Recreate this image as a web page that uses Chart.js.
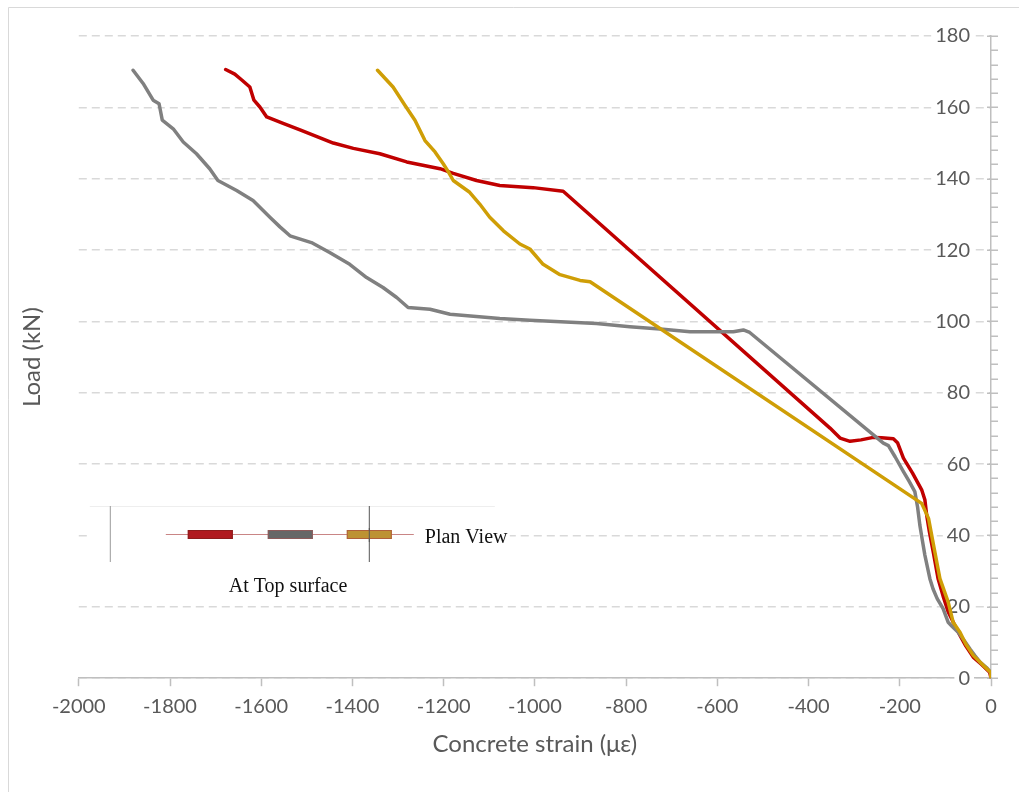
<!DOCTYPE html>
<html>
<head>
<meta charset="utf-8">
<title>Load vs concrete strain</title>
<script src="https://cdn.jsdelivr.net/npm/chart.js@4/dist/chart.umd.min.js"></script>
<style>
  html, body { margin: 0; padding: 0; background: #ffffff; }
  #wrap { position: relative; width: 1019px; height: 792px; }
  canvas { display: block; }
</style>
</head>
<body>
<div id="wrap"><canvas id="chart" width="1019" height="792"></canvas></div>
<script>
// Gauge on the left (red) of the top surface
const redStrain = [0, -3, -20, -39, -55, -68, -80, -94, -105, -116, -126, -135, -141, -145, -152, -172, -192, -205, -214, -240, -258, -285, -309, -331, -353,
  -938, -1004, -1077, -1128, -1179, -1208, -1281, -1340, -1398, -1442, -1515, -1552, -1588, -1603, -1616, -1625, -1642, -1658, -1678];
const redLoad = [0, 1.7, 3.8, 5.9, 9, 12, 15, 18.6, 23, 27.9, 35, 41, 45.7, 50, 52.8, 57.5, 61.7, 66, 67.1, 67.4, 67.5, 66.8, 66.4, 67.3, 70.1,
  136.5, 137.5, 138.1, 139.5, 141.5, 142.8, 144.7, 147, 148.5, 150, 153.7, 155.5, 157.3, 160.1, 162, 165.7, 167.6, 169.3, 170.6];

// Middle gauge (grey)
const greyStrain = [0, -1, -10, -24, -35, -46, -60, -72, -85, -94, -105, -118, -127, -134, -145, -151, -156, -161, -167, -180, -192, -210, -225, -236,
  -529, -543, -565, -660, -719, -792, -865, -1011, -1077, -1186, -1230, -1278, -1303, -1333, -1369, -1406, -1450, -1490, -1537, -1559, -1581, -1618,
  -1654, -1695, -1713, -1742, -1771, -1793, -1817, -1824, -1837, -1859, -1881];
const greyLoad = [0, 1.7, 3, 4.5, 6.3, 8.2, 10.8, 12.9, 14.5, 15.7, 19.5, 22.3, 25, 27.9, 34.5, 39, 42.9, 48, 52.3, 55.3, 57.9, 62, 65.2, 65.9,
  96.9, 97.6, 97.1, 97.1, 97.8, 98.5, 99.4, 100.3, 100.8, 102, 103.4, 103.9, 106.7, 109.5, 112.3, 116, 119.3, 122.1, 124, 126.5, 129.2, 133.9,
  136.7, 139.5, 142.8, 147, 150.3, 154, 156.4, 161, 162, 166.7, 170.4];

// Gauge on the right (gold)
const goldStrain = [0, -1, -17, -39, -55, -68, -83, -94, -112, -126, -137, -152,
  -879, -901, -945, -982, -1011, -1033, -1069, -1099, -1121, -1143, -1179, -1190, -1201, -1219, -1241, -1263, -1285, -1311, -1345];
const goldLoad = [0, 1.7, 3.6, 6.4, 9.5, 12.9, 15.7, 21.4, 27.9, 37.3, 44.8, 49,
  111.1, 111.5, 113.1, 116, 120.3, 121.7, 125.4, 129.2, 132.9, 136.2, 139.5, 142, 144.2, 147.5, 150.7, 156.4, 160.6, 165.7, 170.4];

// Axis ticks
const xTicks = [-2000, -1800, -1600, -1400, -1200, -1000, -800, -600, -400, -200, 0];
const yTicks = [0, 20, 40, 60, 80, 100, 120, 140, 160, 180];
const yMinorStep = 4;

const axisGrey = '#bfbfbf';
const textGrey = '#595959';

function toPoints(xs, ys) {
  return xs.map((x, i) => ({ x: x, y: ys[i] }));
}

// Frame, inset sketch of the gauge layout, and y-axis tick marks
const decor = {
  id: 'decor',
  beforeDraw(chart) {
    const ctx = chart.ctx;
    ctx.save();
    ctx.fillStyle = '#ffffff';
    ctx.fillRect(0, 0, chart.width, chart.height);
    ctx.strokeStyle = '#d9d9d9';
    ctx.lineWidth = 1;
    ctx.beginPath();
    ctx.moveTo(8.5, chart.height);
    ctx.lineTo(8.5, 7.5);
    ctx.lineTo(chart.width, 7.5);
    ctx.stroke();
    ctx.restore();
  },
  beforeDatasetsDraw(chart) {
    const ctx = chart.ctx;
    const ca = chart.chartArea;
    const ox = ca.left, oy = ca.top;
    ctx.save();
    // inset background
    ctx.fillStyle = '#ffffff';
    ctx.fillRect(ox + 9, oy + 468, 422, 96);
    ctx.strokeStyle = '#eeeeee';
    ctx.lineWidth = 1;
    ctx.beginPath();
    ctx.moveTo(ox + 11, oy + 470.5);
    ctx.lineTo(ox + 416, oy + 470.5);
    ctx.stroke();
    // supports
    ctx.strokeStyle = '#9a9a9a';
    ctx.beginPath();
    ctx.moveTo(ox + 31.5, oy + 470);
    ctx.lineTo(ox + 31.5, oy + 526);
    ctx.stroke();
    ctx.strokeStyle = '#555555';
    ctx.beginPath();
    ctx.moveTo(ox + 290.5, oy + 470);
    ctx.lineTo(ox + 290.5, oy + 526);
    ctx.stroke();
    // centre line
    ctx.strokeStyle = '#c98585';
    ctx.beginPath();
    ctx.moveTo(ox + 87, oy + 498.5);
    ctx.lineTo(ox + 335, oy + 498.5);
    ctx.stroke();
    // gauges
    const gauges = [
      { x: 109, fill: '#b01a1f', edge: '#8c1c1c' },
      { x: 189, fill: '#676767', edge: '#8e5a5a' },
      { x: 268, fill: '#bd9233', edge: '#b0603a' }
    ];
    gauges.forEach(g => {
      ctx.fillStyle = g.fill;
      ctx.fillRect(ox + g.x, oy + 494, 45, 9);
      ctx.strokeStyle = g.edge;
      ctx.strokeRect(ox + g.x + 0.5, oy + 494.5, 44, 8);
    });
    // the support line passes over the last gauge
    ctx.strokeStyle = '#555555';
    ctx.beginPath();
    ctx.moveTo(ox + 290.5, oy + 492);
    ctx.lineTo(ox + 290.5, oy + 506);
    ctx.stroke();
    ctx.fillStyle = '#111111';
    ctx.font = '20px "Liberation Serif", "Times New Roman", serif';
    ctx.textAlign = 'left';
    ctx.textBaseline = 'alphabetic';
    ctx.fillText('Plan View', ox + 346, oy + 507);
    ctx.fillText('At Top surface', ox + 150, oy + 556);

    // y-axis tick marks: majors cross the axis, minors sit outside
    const ys = chart.scales.y;
    const ax = ca.right;
    ctx.strokeStyle = axisGrey;
    ctx.lineWidth = 1.5;
    ctx.beginPath();
    for (let v = ys.min; v <= ys.max + 1e-9; v += yMinorStep) {
      const py = Math.round(ys.getPixelForValue(v)) + 0.25;
      const major = yTicks.includes(v);
      ctx.moveTo(ax - (major ? 4 : 0), py);
      ctx.lineTo(ax + 7, py);
    }
    ctx.stroke();
    ctx.restore();
  }
};

function build() {
  new Chart(document.getElementById('chart'), {
    type: 'scatter',
    data: {
      datasets: [
        { label: 'Left', data: toPoints(redStrain, redLoad), borderColor: '#c00000', order: 3 },
        { label: 'Middle', data: toPoints(greyStrain, greyLoad), borderColor: '#808080', order: 2 },
        { label: 'Right', data: toPoints(goldStrain, goldLoad), borderColor: '#cf9e06', order: 1 }
      ]
    },
    options: {
      responsive: false,
      animation: false,
      showLine: true,
      elements: {
        point: { radius: 0, hoverRadius: 0 },
        line: { borderWidth: 3.5, tension: 0, borderJoinStyle: 'round', borderCapStyle: 'round', fill: false }
      },
      layout: { padding: { left: 14, right: 0, top: 36, bottom: 31 } },
      plugins: { legend: { display: false }, tooltip: { enabled: false } },
      scales: {
        x: {
          type: 'linear', position: 'bottom', min: -2000, max: 0,
          afterBuildTicks: s => { s.ticks = xTicks.map(v => ({ value: v })); },
          ticks: {
            color: textGrey, font: { family: 'Lato', size: 20 }, padding: 8,
            maxRotation: 0, autoSkip: false, callback: v => String(v)
          },
          grid: { drawOnChartArea: false, drawTicks: true, tickLength: 8, tickColor: axisGrey, tickWidth: 1.5 },
          border: { color: axisGrey, width: 1.5 },
          title: {
            display: true, text: 'Concrete strain (με)', color: textGrey,
            font: { family: 'Lato', size: 24 }, padding: { top: 4, bottom: 2 }
          }
        },
        y: {
          type: 'linear', position: 'right', min: 0, max: 180,
          afterBuildTicks: s => { s.ticks = yTicks.map(v => ({ value: v })); },
          afterFit: s => { s.width = 28; },
          ticks: {
            mirror: true, padding: -21, color: textGrey, font: { family: 'Lato', size: 20 },
            showLabelBackdrop: true, backdropColor: '#ffffff', backdropPadding: { x: 4, y: 0 },
            callback: v => String(v)
          },
          grid: { drawTicks: false, color: '#d9d9d9', lineWidth: 1.5 },
          border: { color: axisGrey, width: 1.5, dash: [8, 5] }
        },
        yTitle: {
          type: 'linear', position: 'left', display: true,
          ticks: { display: false },
          grid: { display: false, drawTicks: false },
          border: { display: false },
          title: {
            display: true, text: 'Load (kN)', color: textGrey,
            font: { family: 'Lato', size: 24 }, padding: { top: 4, bottom: 32 }
          }
        }
      }
    },
    plugins: [decor]
  });
}

Promise.all([
  document.fonts.load('20px Lato'),
  document.fonts.load('24px Lato'),
  document.fonts.load('20px "Liberation Serif"')
]).then(build, build);
</script>
</body>
</html>
